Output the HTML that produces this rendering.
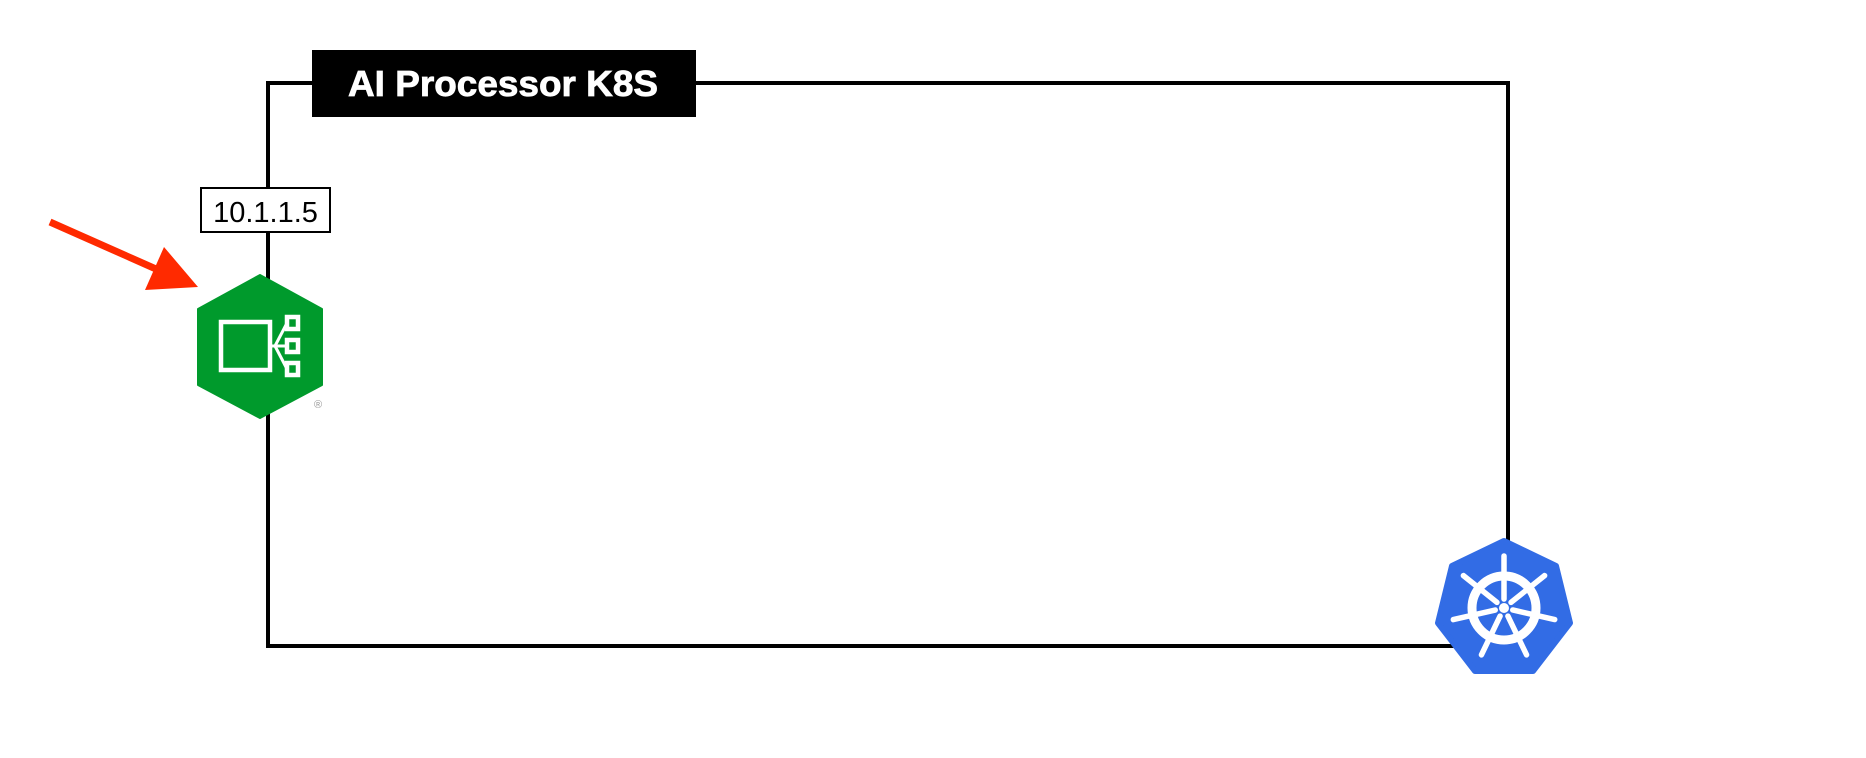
<!DOCTYPE html>
<html><head><meta charset="utf-8"><style>
html,body{margin:0;padding:0;background:#fff;}
svg{display:block;}
</style></head><body>
<svg width="1866" height="758" viewBox="0 0 1866 758" xmlns="http://www.w3.org/2000/svg">
<rect x="268" y="83" width="1240" height="563" fill="none" stroke="#000" stroke-width="4"/>
<rect x="312" y="50" width="384" height="67" fill="#000"/>
<text x="348" y="96" textLength="310" lengthAdjust="spacingAndGlyphs" font-family="Liberation Sans, sans-serif" font-weight="bold" font-size="36" fill="#fff" stroke="#fff" stroke-width="0.8">AI Processor K8S</text>
<rect x="201" y="188" width="129" height="44" fill="#fff" stroke="#000" stroke-width="2"/>
<text x="265.5" y="222" text-anchor="middle" font-family="Liberation Sans, sans-serif" font-size="29" fill="#000">10.1.1.5</text>
<!-- red arrow -->
<line x1="50" y1="222" x2="165" y2="273" stroke="#ff2a00" stroke-width="7"/>
<polygon points="145,290 164,247 198,287" fill="#ff2a00"/>
<!-- green hex -->
<polygon points="260,275 322,309 322,385 260,418 198,385 198,309" fill="#009a2c" stroke="#009a2c" stroke-width="2" stroke-linejoin="round"/>
<g fill="none" stroke="#fff" stroke-width="4.5">
<rect x="221" y="322" width="49" height="48"/>
<rect x="287" y="317" width="11" height="12"/>
<rect x="287" y="340" width="11" height="12"/>
<rect x="287" y="363" width="11" height="12"/>
<path d="M270 346 H287 M275 346 L287 323 M275 346 L287 369" stroke-width="3"/>
</g>
<text x="318" y="408" text-anchor="middle" font-family="Liberation Sans, sans-serif" font-size="11" fill="#999">®</text>
<!-- k8s -->
<g transform="translate(1504,608)">
<polygon points="0,-67 52,-42 66,15 29,63 -29,63 -66,15 -52,-42" fill="#326ce5" stroke="#326ce5" stroke-width="6" stroke-linejoin="round"/>
<circle r="32" fill="none" stroke="#fff" stroke-width="9"/>
<circle r="5" fill="#fff"/>
<g stroke="#fff" stroke-width="5.5" stroke-linecap="round">
<line x1="0" y1="-9" x2="0" y2="-52"/>
<line x1="0" y1="-9" x2="0" y2="-52" transform="rotate(51.4)"/>
<line x1="0" y1="-9" x2="0" y2="-52" transform="rotate(102.8)"/>
<line x1="0" y1="-9" x2="0" y2="-52" transform="rotate(154.3)"/>
<line x1="0" y1="-9" x2="0" y2="-52" transform="rotate(205.7)"/>
<line x1="0" y1="-9" x2="0" y2="-52" transform="rotate(257.1)"/>
<line x1="0" y1="-9" x2="0" y2="-52" transform="rotate(308.6)"/>
</g>
</g>
</svg>
</body></html>
